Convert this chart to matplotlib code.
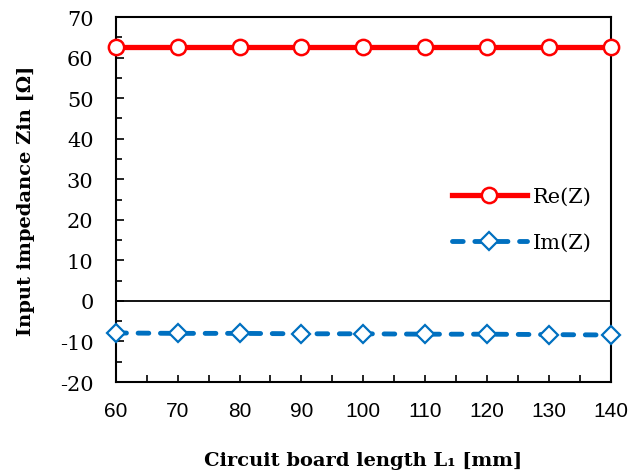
import matplotlib
matplotlib.use('Agg')
import matplotlib.pyplot as plt
from matplotlib.ticker import MultipleLocator

plt.rcParams['axes.unicode_minus'] = False

# board length L1 [mm]
length = [60, 70, 80, 90, 100, 110, 120, 130, 140]
# input impedance [ohm]
re_z = [62.7, 62.7, 62.7, 62.7, 62.7, 62.7, 62.7, 62.7, 62.7]
im_z = [-7.9, -8.0, -8.0, -8.1, -8.1, -8.2, -8.2, -8.3, -8.4]

serif = 'DejaVu Serif'
sans = 'Liberation Sans'

fig = plt.figure(figsize=(6.43, 4.77), dpi=100)
ax = fig.add_axes([0.180, 0.197, 0.770, 0.765])

ax.axhline(0, color='black', lw=1.3, zorder=1)

ax.plot(length, re_z, color='#FF0000', lw=3.8, marker='o', ms=11,
        mfc='white', mec='#FF0000', mew=1.8, label='Re(Z)', clip_on=False, zorder=3)
ax.plot(length, im_z, color='#0070C0', lw=3.5, ls=(0, (2.2, 2.4)), dash_capstyle='round',
        marker='D', ms=9.5, mfc='white', mec='#0070C0', mew=1.6, label='Im(Z)',
        clip_on=False, zorder=3)

ax.set_xlim(60, 140)
ax.set_ylim(-20, 70)
ax.xaxis.set_major_locator(MultipleLocator(10))
ax.xaxis.set_minor_locator(MultipleLocator(5))
ax.yaxis.set_major_locator(MultipleLocator(10))
ax.yaxis.set_minor_locator(MultipleLocator(5))
ax.tick_params(axis='both', which='both', direction='in', width=1.2, top=False, right=False)
ax.tick_params(axis='y', which='major', length=6, labelsize=15, pad=16)
ax.tick_params(axis='y', which='minor', length=4)
ax.tick_params(axis='x', which='major', length=5, labelsize=15, pad=14)
ax.tick_params(axis='x', which='minor', length=5)
for t in ax.get_yticklabels():
    t.set_fontfamily(serif)
for t in ax.get_xticklabels():
    t.set_fontfamily(sans)

for s in ax.spines.values():
    s.set_linewidth(1.5)

ax.set_xlabel('Circuit board length L₁ [mm]', fontsize=14, fontfamily=serif,
              fontweight='bold', labelpad=22)
ax.set_ylabel('Input impedance Zin [Ω]', fontsize=14, fontfamily=serif,
              fontweight='bold', labelpad=18)

ax.legend(loc='center right', bbox_to_anchor=(1.0, 0.445), frameon=False,
          prop={'family': serif, 'size': 15}, handlelength=3.6, labelspacing=1.3,
          handletextpad=0.3)

fig.savefig('out.png', dpi=100)
